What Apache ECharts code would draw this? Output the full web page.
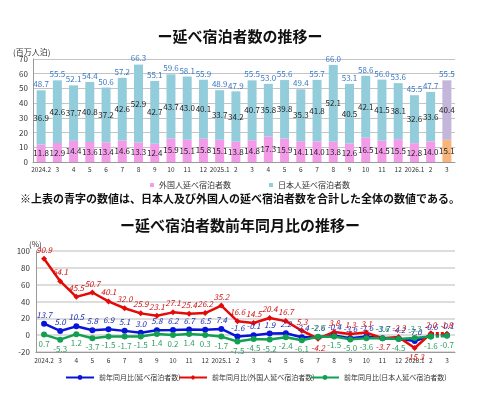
<!DOCTYPE html>
<html>
<head>
<meta charset="utf-8">
<script src="https://cdn.jsdelivr.net/npm/echarts@6/dist/echarts.min.js"></script>
<style>
  html, body { margin: 0; padding: 0; background: #fff; }
  #main { width: 480px; height: 402px; }
</style>
</head>
<body>
<div id="main"></div>
<script>
// 月（横軸）
var months = ['2024.2', '3', '4', '5', '6', '7', '8', '9', '10', '11', '12',
    '2025.1', '2', '3', '4', '5', '6', '7', '8', '9', '10', '11', '12',
    '2026.1', '2', '3'];

// 延べ宿泊者数（百万人泊）
var foreignStay = [11.8, 12.9, 14.4, 13.6, 13.4, 14.6, 13.3, 12.4, 15.9, 15.1, 15.8,
    15.1, 13.8, 14.8, 17.3, 15.9, 14.1, 14.0, 13.8, 12.6, 16.5, 14.5, 15.5,
    12.8, 14.0, 15.1];
var japanStay = [36.9, 42.6, 37.7, 40.8, 37.2, 42.6, 52.9, 42.7, 43.7, 43.0, 40.1,
    33.7, 34.2, 40.7, 35.8, 39.8, 35.3, 41.8, 52.1, 40.5, 42.1, 41.5, 38.1,
    32.6, 33.6, 40.4];
var totalStay = [48.7, 55.5, 52.1, 54.4, 50.6, 57.2, 66.3, 55.1, 59.6, 58.1, 55.9,
    48.9, 47.9, 55.5, 53.0, 55.6, 49.4, 55.7, 66.0, 53.1, 58.6, 56.0, 53.6,
    45.5, 47.7, 55.5];

// 前年同月比（%）
var yoyTotal = [13.7, 5.0, 10.5, 5.8, 6.9, 5.1, 3.0, 5.8, 6.2, 6.7, 6.5,
    7.4, -1.6, -0.1, 1.9, 2.2, -2.4, -2.6, -0.4, -3.6, -1.6, -3.7, -4.2,
    -7.0, -0.6, -0.1];
var yoyForeign = [90.9, 64.1, 45.5, 50.7, 40.1, 32.0, 25.9, 23.1, 27.1, 25.4, 26.2,
    35.2, 16.6, 14.5, 20.4, 16.7, 5.3, -4.2, 3.8, 1.3, 3.1, -3.7, -2.3,
    -15.3, 2.0, 1.8];
var yoyJapan = [0.7, -5.3, 1.2, -3.7, -1.5, -1.7, -1.5, 1.4, 0.2, 1.4, 0.3,
    -1.7, -7.5, -4.5, -5.2, -2.4, -6.1, -2.0, -1.5, -5.0, -3.6, -3.6, -4.5,
    -3.3, -1.6, -0.7];

var yAxisTop = [0, 70, 10];
var yAxisBottom = [-20, 100, 20];

var FONT = '"Noto Sans CJK JP", "Noto Sans", sans-serif';
var last = months.length - 1;
// ラベルを上下入れ替える月
var flipIdx = [17, 21, 23];

var NAME_TOTAL = '前年同月比(延べ宿泊者数)';
var NAME_FOREIGN = '前年同月比(外国人延べ宿泊者数)';
var NAME_JAPAN = '前年同月比(日本人延べ宿泊者数)';

function fmt(p) {
    return Number(p.value).toFixed(1);
}

// 最新月だけ色を変える
function lastColor(arr, color) {
    return arr.map(function(v, i) {
        return i === last ? { value: v, itemStyle: { color: color } } : v;
    });
}

// 実線部分（最後の区間以外）
function mainPart(arr, flipPos) {
    return arr.map(function(v, i) {
        if (i === last) return '-';
        if (flipIdx.indexOf(i) >= 0) return { value: v, label: { position: flipPos } };
        return v;
    });
}

// 最後の区間（破線）
function tailPart(arr) {
    return arr.map(function(v, i) {
        return i >= last - 1 ? v : '-';
    });
}

function lineLabel(pos, color, italic, formatter) {
    return {
        show: true,
        position: pos,
        distance: 2,
        fontSize: 8,
        fontStyle: italic ? 'italic' : 'normal',
        fontFamily: FONT,
        color: color,
        formatter: formatter
    };
}

function lineSeries(name, arr, color, labelColor, symbol, pos, flipPos, italic) {
    return [{
        name: name,
        type: 'line',
        xAxisIndex: 1,
        yAxisIndex: 1,
        data: mainPart(arr, flipPos),
        symbol: symbol,
        symbolSize: 6,
        lineStyle: { color: color, width: 2.5 },
        itemStyle: { color: color },
        label: lineLabel(pos, labelColor, italic, fmt),
        z: 3
    }, {
        name: name + '_tail',
        type: 'line',
        xAxisIndex: 1,
        yAxisIndex: 1,
        data: tailPart(arr),
        symbol: symbol,
        symbolSize: 6,
        lineStyle: { color: color, width: 3, type: [3, 2] },
        itemStyle: { color: color },
        label: lineLabel(pos, labelColor, italic, function(p) {
            return p.dataIndex === last ? fmt(p) : '';
        }),
        z: 3
    }];
}

function lineLegend(name, left) {
    return {
        data: [name],
        left: left,
        top: 369,
        itemWidth: 28,
        itemHeight: 6,
        textStyle: { fontSize: 7, color: '#333', fontFamily: FONT }
    };
}

var barLabel = {
    show: true,
    position: 'inside',
    fontSize: 8,
    color: '#222',
    textBorderWidth: 0,
    formatter: fmt
};

var myChart = echarts.init(document.getElementById('main'));

var option = {
    animation: false,
    textStyle: { fontFamily: FONT },
    title: [{
        text: 'ー延べ宿泊者数の推移ー',
        left: 'center',
        top: 24,
        textStyle: { fontSize: 15, fontWeight: 'bold', color: '#111', fontFamily: FONT }
    }, {
        text: '(百万人泊)',
        left: 8,
        top: 43,
        textStyle: { fontSize: 8, fontWeight: 'normal', color: '#333', fontFamily: FONT }
    }, {
        text: '※上表の青字の数値は、日本人及び外国人の延べ宿泊者数を合計した全体の数値である。',
        left: 'center',
        top: 188,
        textStyle: { fontSize: 11, fontWeight: 'bold', color: '#111', fontFamily: FONT }
    }, {
        text: 'ー延べ宿泊者数前年同月比の推移ー',
        left: 'center',
        top: 213,
        textStyle: { fontSize: 15, fontWeight: 'bold', color: '#111', fontFamily: FONT }
    }, {
        text: '(%)',
        left: 24,
        top: 235,
        textStyle: { fontSize: 8, fontWeight: 'normal', color: '#333', fontFamily: FONT }
    }],
    legend: [{
        data: ['外国人延べ宿泊者数', '日本人延べ宿泊者数'],
        left: 145,
        top: 176,
        itemWidth: 4,
        itemHeight: 4,
        itemGap: 38,
        icon: 'rect',
        textStyle: { fontSize: 8, color: '#333', fontFamily: FONT }
    },
        lineLegend(NAME_TOTAL, 60),
        lineLegend(NAME_FOREIGN, 173),
        lineLegend(NAME_JAPAN, 305)
    ],
    grid: [{
        left: 33, right: 25, top: 59, height: 103
    }, {
        left: 36, right: 25, top: 251, height: 101
    }],
    xAxis: [{
        type: 'category',
        gridIndex: 0,
        data: months,
        axisLine: { lineStyle: { color: '#999' } },
        axisTick: { show: false },
        axisLabel: { interval: 0, fontSize: 6.5, color: '#333', margin: 4 }
    }, {
        type: 'category',
        gridIndex: 1,
        data: months,
        axisLine: { onZero: false, lineStyle: { color: '#999' } },
        axisTick: { show: false },
        axisLabel: { interval: 0, fontSize: 6.5, color: '#333', margin: 5 }
    }],
    yAxis: [{
        type: 'value',
        gridIndex: 0,
        min: yAxisTop[0],
        max: yAxisTop[1],
        interval: yAxisTop[2],
        axisLine: { show: true, lineStyle: { color: '#999' } },
        axisLabel: { fontSize: 8, color: '#333', margin: 5 },
        splitLine: { lineStyle: { color: '#c4c4c4' } }
    }, {
        type: 'value',
        gridIndex: 1,
        min: yAxisBottom[0],
        max: yAxisBottom[1],
        interval: yAxisBottom[2],
        axisLine: { show: true, lineStyle: { color: '#999' } },
        axisLabel: { fontSize: 8, color: '#333', margin: 6 },
        splitLine: { lineStyle: { color: '#d2d2d2', width: 1.5 } }
    }],
    series: [{
        name: '外国人延べ宿泊者数',
        type: 'bar',
        stack: 'stay',
        barWidth: 9,
        data: lastColor(foreignStay, '#f7b57a'),
        itemStyle: { color: '#f39be8' },
        label: barLabel
    }, {
        name: '日本人延べ宿泊者数',
        type: 'bar',
        stack: 'stay',
        barWidth: 9,
        data: lastColor(japanStay, '#c4b5da'),
        itemStyle: { color: '#93cddb' },
        label: barLabel
    }, {
        name: '全体',
        type: 'bar',
        barWidth: 9,
        barGap: '-100%',
        data: totalStay,
        itemStyle: { color: 'transparent' },
        silent: true,
        z: 1,
        label: {
            show: true,
            position: 'top',
            distance: 2,
            fontSize: 8,
            color: '#3a78c4',
            formatter: fmt
        }
    }]
        .concat(lineSeries(NAME_TOTAL, yoyTotal, '#0a14d8', '#1a2ab0', 'circle', 'top', 'top', true))
        .concat(lineSeries(NAME_FOREIGN, yoyForeign, '#e40a0a', '#d01010', 'diamond', 'top', 'bottom', true))
        .concat(lineSeries(NAME_JAPAN, yoyJapan, '#10a050', '#2f9e5e', 'circle', 'bottom', 'top', false))
};

myChart.setOption(option);
</script>
</body>
</html>
